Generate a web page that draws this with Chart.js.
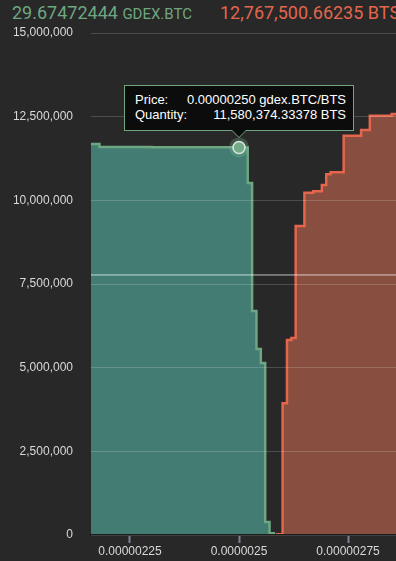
<!DOCTYPE html>
<html>
<head>
<meta charset="utf-8">
<script src="https://cdn.jsdelivr.net/npm/chart.js@4"></script>
<style>
  body { margin: 0; background: #282828; width: 396px; height: 561px; overflow: hidden; position: relative; }
  #chart { position: absolute; left: 0; top: 0; }
  .head { position: absolute; top: 4px; line-height: 18px; font-family: Roboto, sans-serif; font-size: 18px; white-space: nowrap; }
  .bid { left: 12px; color: #6ea681; }
  .bid small { font-size: 15px; }
  .ask { left: 220px; color: #e3664d; }
  #tip { position: absolute; box-sizing: border-box; width: 230px; padding: 6px 10px 8px; background: #0c0c0c; border: 1px solid #6ea681;
         color: #fff; font: 13px "Liberation Sans", Arial, sans-serif; line-height: 15px; opacity: 0; }
  #tip table { width: 100%; border-collapse: collapse; }
  #tip td { padding: 0; white-space: nowrap; }
  #tip td.v { text-align: right; }
  #tip:after, #tip:before { content: ""; position: absolute; left: 50%; border: solid transparent; }
  #tip:before { top: 100%; margin-left: -8px; border-width: 8px; border-top-color: #6ea681; }
  #tip:after { top: 100%; margin-left: -7px; border-width: 7px; border-top-color: #0c0c0c; }
</style>
</head>
<body>
<div class="head bid">29.67472444 <small>GDEX.BTC</small></div>
<div class="head ask">12,767,500.66235 BTS</div>
<canvas id="chart" width="396" height="561"></canvas>
<div id="tip"><table>
  <tr><td>Price:</td><td class="v" id="tipPrice"></td></tr>
  <tr><td>Quantity:</td><td class="v" id="tipQty"></td></tr>
</table></div>
<script>
// order book depth, cumulative BTS
const bidPrices = [2.15e-6, 2.18e-6, 2.30e-6, 2.42e-6, 2.50e-6, 2.52e-6, 2.53e-6, 2.54e-6, 2.55e-6, 2.56e-6, 2.57e-6, 2.583e-6];
const bidDepth = [11680000, 11592000, 11588000, 11584000, 11580374.33378, 10520000, 6690000, 5560000, 5140000, 390000, 50000, 50000];
const askPrices = [2.585e-6, 2.60e-6, 2.61e-6, 2.62e-6, 2.63e-6, 2.65e-6, 2.67e-6, 2.69e-6, 2.70e-6, 2.71e-6, 2.74e-6, 2.78e-6, 2.80e-6, 2.85e-6, 2.90e-6];
const askDepth = [20000, 3940000, 5830000, 5890000, 9230000, 10230000, 10270000, 10460000, 10780000, 10840000, 11930000, 12100000, 12530000, 12580000, 12767500.66235];
const xTicks = [2.25e-6, 2.5e-6, 2.75e-6];
const xTickLabels = ["0.00000225", "0.0000025", "0.00000275"];
const xMin = 2.1606e-6;
const xMax = 2.86e-6;
const hoverIndex = 4; //the bid the tooltip is showing
const crosshairQty = 7770000;

const green = "#6ea681";
const red = "#e3664d";

const toPoints = (xs, ys) => xs.map((x, i) => ({ x: x, y: ys[i] }));

Chart.defaults.font.family = '"Liberation Sans", Arial, sans-serif';
Chart.defaults.font.size = 12;
Chart.defaults.color = "#d9d9d9";

const tip = document.getElementById("tip");

const chart = new Chart(document.getElementById("chart"), {
  type: "line",
  data: {
    datasets: [
      {
        label: "bids",
        data: toPoints(bidPrices, bidDepth),
        stepped: "before",
        borderColor: green,
        borderWidth: 2.5,
        backgroundColor: "rgba(68,128,118,0.96)",
        fill: "origin",
        pointRadius: (ctx) => (ctx.dataIndex === hoverIndex ? 6 : 0),
        pointBackgroundColor: green,
        pointBorderColor: "#ffffff",
        pointBorderWidth: 1.5,
        order: 2,
      },
      {
        label: "asks",
        data: toPoints(askPrices, askDepth),
        stepped: "before",
        borderColor: red,
        borderWidth: 2.5,
        backgroundColor: "rgba(140,80,66,0.96)",
        fill: "origin",
        pointRadius: 0,
        order: 3,
      },
      {
        label: "crosshair",
        data: toPoints([xMin, xMax], [crosshairQty, crosshairQty]),
        borderColor: "rgba(255,255,255,0.7)",
        borderWidth: 1,
        pointRadius: 0,
        fill: false,
        order: 0,
      },
      {
        label: "halo",
        data: toPoints([bidPrices[hoverIndex]], [bidDepth[hoverIndex]]),
        showLine: false,
        pointRadius: 10,
        pointBackgroundColor: "rgba(130,180,150,0.3)",
        pointBorderWidth: 0,
        order: 1,
      },
    ],
  },
  options: {
    responsive: false,
    animation: false,
    events: [],
    layout: { autoPadding: false, padding: { top: 33, left: 0, right: 0, bottom: 0 } },
    plugins: {
      legend: { display: false },
      tooltip: {
        enabled: false,
        external: ({ chart, tooltip }) => {
          if (tooltip.opacity === 0 || !tooltip.dataPoints) {
            tip.style.opacity = 0;
            return;
          }
          const p = tooltip.dataPoints[0].parsed;
          document.getElementById("tipPrice").textContent = p.x.toFixed(8) + " gdex.BTC/BTS";
          document.getElementById("tipQty").textContent =
            p.y.toLocaleString("en-US", { minimumFractionDigits: 5, maximumFractionDigits: 5 }) + " BTS";
          tip.style.opacity = 1;
          tip.style.left = tooltip.caretX - tip.offsetWidth / 2 + "px";
          tip.style.top = tooltip.caretY - tip.offsetHeight - 16 + "px";
        },
      },
    },
    scales: {
      x: {
        type: "linear",
        min: xMin,
        max: xMax,
        afterBuildTicks: (scale) => {
          scale.ticks = xTicks.map((v) => ({ value: v }));
        },
        afterFit: (scale) => {
          scale.height = 26;
          scale.paddingLeft = 0;
          scale.paddingRight = 0;
        },
        grid: { drawOnChartArea: false, tickLength: 8, tickColor: "#7d8490", tickWidth: 2 },
        border: { color: "#1b1b1b", width: 2, z: 1 },
        ticks: { padding: 1, maxRotation: 0, callback: (v, i) => xTickLabels[i] },
      },
      y: {
        min: 0,
        max: 15000000,
        afterFit: (scale) => {
          scale.width = 91;
          scale.paddingTop = 0;
          scale.paddingBottom = 0;
        },
        grid: { color: "rgba(255,255,255,0.17)", drawTicks: false, z: 1 },
        border: { display: false },
        ticks: { stepSize: 2500000, padding: 18, callback: (v) => v.toLocaleString("en-US") },
      },
    },
  },
});

chart.tooltip.setActiveElements([{ datasetIndex: 0, index: hoverIndex }], { x: 0, y: 0 });
chart.update();
</script>
</body>
</html>
